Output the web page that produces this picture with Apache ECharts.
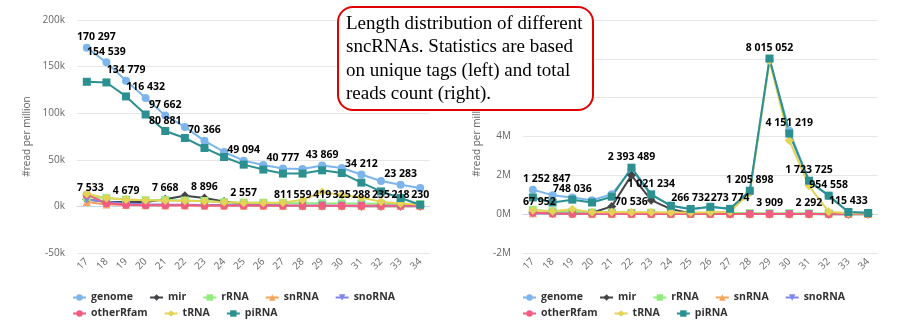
<!DOCTYPE html>
<html>
<head>
<meta charset="utf-8">
<script src="https://cdn.jsdelivr.net/npm/echarts@6/dist/echarts.min.js"></script>
<style>
  html, body { margin: 0; padding: 0; background: #fff; }
  #chart { width: 900px; height: 329px; }
</style>
</head>
<body>
<div id="chart"></div>
<script>
// Read lengths (nt)
const lengths = ['17','18','19','20','21','22','23','24','25','26','27','28','29','30','31','32','33','34'];

const seriesNames = ['genome', 'mir', 'rRNA', 'snRNA', 'snoRNA', 'otherRfam', 'tRNA', 'piRNA'];

// Unique tags, reads per million (left panel)
const tagsGenome    = [170297, 154539, 134779, 116432, 97662, 85300, 70366, 58400, 49094, 44500, 40777, 40100, 43869, 41200, 34212, 27200, 23283, 19700];
const tagsMir       = [7533, 4600, 4679, 4800, 7668, 11500, 8896, 5200, 2557, 1500, 811, 559, 419, 325, 288, 235, 218, 230];
const tagsRRNA      = [10000, 8900, 7300, 6600, 6800, 6300, 5800, 4500, 4000, 3800, 3600, 3500, 3300, 3200, 3000, 2800, 2600, 2400];
const tagsSnRNA     = [4600, 2100, 1500, 1200, 1000, 900, 800, 700, 600, 600, 500, 500, 500, 400, 400, 400, 300, 300];
const tagsSnoRNA    = [7500, 4600, 3000, 2400, 2000, 1800, 1600, 1400, 1200, 1100, 1000, 900, 900, 800, 800, 700, 700, 600];
const tagsOtherRfam = [12600, 3500, 1800, 1300, 1200, 1100, 1000, 1000, 900, 900, 900, 800, 800, 800, 800, 700, 700, 700];
const tagsTRNA      = [13500, 8900, 7500, 6500, 6200, 6000, 5600, 4500, 4000, 4000, 4300, 7000, 15500, 12000, 9500, 5000, 3200, 2000];
const tagsPiRNA     = [133700, 133000, 118000, 98600, 80881, 73400, 62700, 53000, 44800, 39500, 35200, 35200, 38700, 35800, 25500, 16100, 9000, 1800];

// Total reads, reads per million (right panel)
const readsGenome    = [1252847, 980000, 860000, 720000, 1030000, 2300000, 980000, 450000, 240000, 370000, 260000, 1150000, 7950000, 4300000, 1700000, 940000, 110000, 70000];
const readsMir       = [67952, 50000, 40000, 70000, 400000, 2000000, 720000, 260000, 50000, 25000, 15000, 8000, 3909, 3000, 2292, 2000, 1500, 1200];
const readsRRNA      = [220000, 150000, 120000, 80000, 75000, 70536, 70000, 65000, 60000, 60000, 60000, 55000, 50000, 50000, 45000, 40000, 35000, 30000];
const readsSnRNA     = [50000, 30000, 20000, 15000, 12000, 10000, 10000, 9000, 8000, 8000, 7000, 7000, 6000, 6000, 6000, 5000, 5000, 5000];
const readsSnoRNA    = [40000, 30000, 25000, 20000, 20000, 18000, 15000, 15000, 12000, 12000, 10000, 10000, 10000, 9000, 9000, 8000, 8000, 7000];
const readsOtherRfam = [90000, 40000, 25000, 20000, 18000, 15000, 15000, 12000, 12000, 10000, 10000, 10000, 9000, 9000, 9000, 8000, 8000, 8000];
const readsTRNA      = [200000, 150000, 250000, 100000, 110000, 100000, 100000, 90000, 90000, 100000, 120000, 1100000, 7900000, 3800000, 1460000, 120000, 50000, 30000];
const readsPiRNA     = [860000, 600000, 748036, 600000, 900000, 2393489, 1021234, 430000, 266732, 380000, 273774, 1205898, 8015052, 4151219, 1723725, 954558, 115433, 60000];

// Lengths whose value is printed above the point
const tagsLabelled = {
  genome: ['17','18','19','20','21','23','25','27','29','31','33'],
  mir: ['17','19','21','23','25','27','28','29','30','31','32','33','34'],
  piRNA: ['21']
};
const readsLabelled = {
  genome: ['17'],
  mir: ['17','29','31'],
  rRNA: ['22'],
  piRNA: ['19','22','23','25','27','28','29','30','31','32','33']
};

// Y-axis ticks
const tagsAxis = { min: -50000, max: 200000, step: 50000 };
const readsAxis = { min: -2000000, max: 10000000, step: 2000000 };

const colors = {
  genome: '#7cb5ec', mir: '#434348', rRNA: '#90ed7d', snRNA: '#f7a35c',
  snoRNA: '#8085e9', otherRfam: '#f15c80', tRNA: '#e4d354', piRNA: '#2b908f'
};
const symbols = {
  genome: ['circle', 0, 8], mir: ['diamond', 0, 9], rRNA: ['rect', 0, 8], snRNA: ['triangle', 0, 8],
  snoRNA: ['triangle', 180, 8], otherRfam: ['circle', 0, 8], tRNA: ['diamond', 0, 9], piRNA: ['rect', 0, 8]
};

const tagsData = {
  genome: tagsGenome, mir: tagsMir, rRNA: tagsRRNA, snRNA: tagsSnRNA,
  snoRNA: tagsSnoRNA, otherRfam: tagsOtherRfam, tRNA: tagsTRNA, piRNA: tagsPiRNA
};
const readsData = {
  genome: readsGenome, mir: readsMir, rRNA: readsRRNA, snRNA: readsSnRNA,
  snoRNA: readsSnoRNA, otherRfam: readsOtherRfam, tRNA: readsTRNA, piRNA: readsPiRNA
};

const FONT = '"Open Sans", "DejaVu Sans", sans-serif';
const gridLefts = [77, 523];

function spaced(v) {
  return String(v).replace(/\B(?=(\d{3})+(?!\d))/g, ' ');
}

function buildSeries(dataMap, labelled, gridIdx) {
  return seriesNames.map(name => {
    const shown = labelled[name] || [];
    const [sym, rot, size] = symbols[name];
    return {
      name: name,
      type: 'line',
      xAxisIndex: gridIdx,
      yAxisIndex: gridIdx,
      symbol: sym,
      symbolRotate: rot,
      symbolSize: size,
      showAllSymbol: true,
      color: colors[name],
      lineStyle: { width: 2 },
      emphasis: { disabled: true },
      label: {
        position: 'top',
        distance: 1,
        fontFamily: FONT,
        fontSize: 10.5,
        fontWeight: 'bold',
        color: '#000',
        formatter: p => spaced(p.value)
      },
      labelLayout: p => {
        const edge = gridLefts[gridIdx];
        return p.labelRect.x < edge ? { dx: edge - p.labelRect.x } : {};
      },
      data: dataMap[name].map((v, i) => ({
        value: v,
        label: { show: shown.indexOf(lengths[i]) >= 0 }
      }))
    };
  });
}

function xAxisFor(gridIdx) {
  return {
    type: 'category',
    gridIndex: gridIdx,
    data: lengths,
    axisLine: { lineStyle: { color: '#ccd6eb', width: 1 } },
    axisTick: { length: 6, lineStyle: { color: '#ccd6eb' } },
    axisLabel: { rotate: 45, color: '#666', fontSize: 10, fontFamily: FONT, margin: 7 }
  };
}

function yAxisFor(gridIdx, ax, unit, div, gap) {
  return {
    type: 'value',
    gridIndex: gridIdx,
    min: ax.min, max: ax.max, interval: ax.step,
    name: '#read per million',
    nameLocation: 'middle',
    nameGap: gap,
    nameTextStyle: { color: '#666', fontSize: 10, fontFamily: FONT },
    axisLine: { show: false },
    axisTick: { show: false },
    splitLine: { lineStyle: { color: '#e6e6e6', width: 1 } },
    axisLabel: { color: '#666', fontSize: 10, fontFamily: FONT, margin: 12,
                 formatter: v => (v / div) + unit }
  };
}

function legendRow(left, top, names) {
  return {
    left: left, top: top,
    padding: 0,
    data: names,
    itemWidth: 13, itemHeight: 8, itemGap: 16,
    textStyle: { color: '#333', fontSize: 10.5, fontWeight: 'bold', fontFamily: FONT },
    selectedMode: false
  };
}

const chart = echarts.init(document.getElementById('chart'), null, { renderer: 'canvas' });

chart.setOption({
  animation: false,
  backgroundColor: '#fff',
  textStyle: { fontFamily: FONT },
  grid: [
    { left: 77, right: 470, top: 20, bottom: 76 },
    { left: 523, right: 22, top: 20, bottom: 76 }
  ],
  xAxis: [xAxisFor(0), xAxisFor(1)],
  yAxis: [
    yAxisFor(0, tagsAxis, 'k', 1000, 45),
    yAxisFor(1, readsAxis, 'M', 1000000, 41)
  ],
  legend: [
    legendRow(72, 292, seriesNames.slice(0, 5)),
    legendRow(72, 308, seriesNames.slice(5)),
    legendRow(522, 292, seriesNames.slice(0, 5)),
    legendRow(522, 308, seriesNames.slice(5))
  ],
  series: buildSeries(tagsData, tagsLabelled, 0).concat(buildSeries(readsData, readsLabelled, 1)),
  graphic: [
    {
      type: 'rect',
      z: 100, zlevel: 1,
      shape: { x: 338, y: 7, width: 255, height: 103, r: 15 },
      style: { fill: '#fff', stroke: '#e10000', lineWidth: 2 }
    },
    {
      type: 'text',
      z: 101, zlevel: 1,
      x: 346, y: 12,
      style: {
        text: 'Length distribution of different\nsncRNAs. Statistics are based\non unique tags (left) and total\nreads count (right).',
        font: '19px "Liberation Serif", "Times New Roman", serif',
        lineHeight: 23.5,
        fill: '#000'
      }
    }
  ]
});
</script>
</body>
</html>
